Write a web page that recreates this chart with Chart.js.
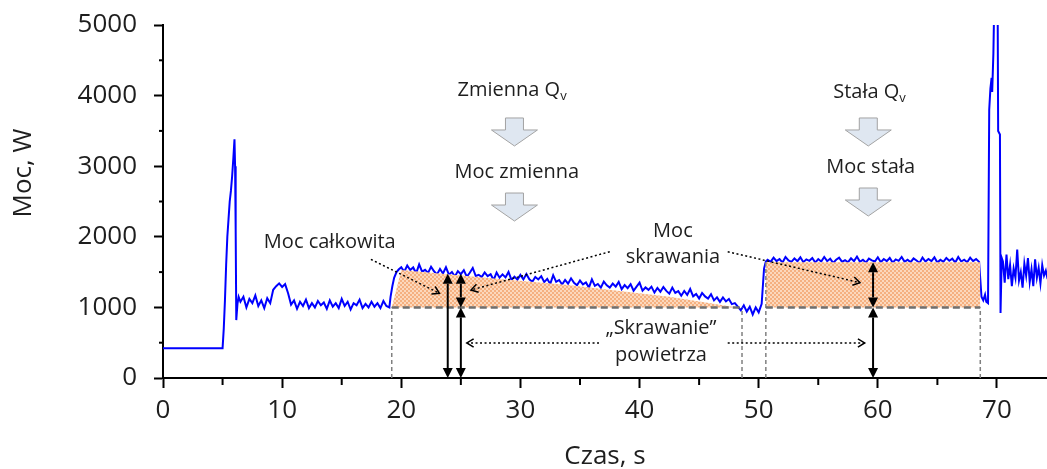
<!DOCTYPE html>
<html>
<head>
<meta charset="utf-8">
<script src="https://cdn.jsdelivr.net/npm/chart.js@4.4.1/dist/chart.umd.min.js"></script>
<style>
  html, body { margin: 0; padding: 0; background: #fff; }
  canvas { display: block; }
</style>
</head>
<body>
<canvas id="chart" width="1047" height="469"></canvas>
<script>
// power trace (W), time in s
const idleTime = [0, 5.0];
const idlePower = [420, 420];

const startTime = [5.1, 5.2, 5.3, 5.4, 5.5, 5.6, 5.7, 5.8, 5.9, 6.0, 6.05, 6.1, 6.15, 6.25, 6.35];
const startPower = [700, 1100, 1600, 2000, 2250, 2500, 2650, 2850, 3100, 3380, 3000, 2100, 820, 1050, 1150];

// sampled segments: start time + fixed step
const sampleStep = 0.25;
const airStart = 6.5;
const airPower = [1080, 1150, 1000, 1120, 1060, 1170, 1020, 1100, 990, 1130,
  1060, 1250, 1300, 1340, 1290, 1330, 1200, 1040, 1100, 980,
  1080, 1020, 1110, 990, 1060, 1000, 1090, 1030, 1070, 980,
  1100, 1010, 1060, 990, 1120, 1020, 1080, 970, 1060, 1030,
  1110, 990, 1050, 1000, 1080, 1010, 1060, 990, 1090, 1020];

const riseTime = [19.0, 19.1, 19.25, 19.4, 19.6, 19.8];
const risePower = [1000, 1150, 1300, 1420, 1500, 1540];

const variableStart = 20.0;
const variablePower = [1570, 1506, 1593, 1530, 1566, 1483, 1609, 1506, 1532, 1489,
  1575, 1512, 1468, 1545, 1481, 1568, 1464, 1501, 1437, 1514,
  1470, 1527, 1434, 1491, 1558, 1445, 1462, 1429, 1496, 1443,
  1470, 1387, 1494, 1421, 1468, 1425, 1502, 1389, 1436, 1393,
  1460, 1396, 1472, 1398, 1364, 1430, 1396, 1442, 1358, 1404,
  1330, 1456, 1362, 1388, 1324, 1390, 1336, 1412, 1348, 1314,
  1380, 1327, 1354, 1281, 1398, 1305, 1332, 1279, 1366, 1313,
  1280, 1337, 1294, 1361, 1258, 1315, 1272, 1329, 1236, 1293,
  1350, 1236, 1282, 1248, 1294, 1210, 1276, 1222, 1288, 1234,
  1195, 1280, 1205, 1230, 1165, 1232, 1176, 1260, 1156, 1190,
  1125, 1205, 1156, 1126, 1188, 1100, 1142, 1078, 1140, 1085,
  1120, 1046, 1060, 1010];

const dipStart = 48.5;
const dipPower = [960, 1030, 940, 1010, 900, 1000, 930, 1050];

const stepTime = [50.35, 50.45, 50.6];
const stepPower = [1300, 1550, 1650];

const constantStart = 50.75;
const constantPower = [1675, 1645, 1705, 1655, 1685, 1635, 1715, 1665, 1645, 1695,
  1655, 1710, 1640, 1680, 1660, 1700, 1635, 1685, 1650, 1715,
  1655, 1690, 1630, 1675, 1705, 1645, 1670, 1640, 1695, 1655,
  1720, 1645, 1675, 1635, 1690, 1665, 1650, 1710, 1640, 1685,
  1655, 1700, 1635, 1680, 1660, 1715, 1645, 1675, 1640, 1695,
  1665, 1630, 1705, 1650, 1685, 1655, 1710, 1635, 1675, 1645,
  1700, 1660, 1690, 1635, 1715, 1650, 1675, 1640, 1705, 1655,
  1685, 1645];

const exitTime = [68.6, 68.7, 68.85, 69.0, 69.1, 69.25, 69.35, 69.45, 69.55, 69.6, 69.7, 69.8, 70.05, 70.1, 70.25, 70.3, 70.4];
const exitPower = [1400, 1150, 1100, 1180, 1080, 1060, 3800, 4100, 4250, 4050, 4600, 5600, 5600, 3500, 3450, 920, 1700];

const endStep = 0.15;
const endStart = 70.5;
const endPower = [1650, 1350, 1750, 1400, 1600, 1300, 1550, 1420, 1820, 1380,
  1500, 1280, 1620, 1450, 1700, 1360, 1540, 1300, 1680, 1420,
  1560, 1340, 1600, 1450, 1520, 1400];

// cutting power areas
const airLevel = 1000;
const variableCutTime = [19.2, 20.0, 28.0, 34.0, 42.5, 48.2];
const variableCutPower = [1000, 1530, 1405, 1317, 1150, 1000];
const constantCutTime = [50.6, 50.6, 68.6, 68.6];
const constantCutPower = [1000, 1640, 1640, 1000];

// boundaries of the cutting phases
const edgeTime = [19.2, 48.6, 50.6, 68.6];
const edgeTop = [1000, 1000, 1640, 1000];
const baseFrom = [19.2, 50.6];
const baseTo = [48.6, 68.6];

// measurement arrows: time, from, to
const measureTime = [23.9, 25.0, 25.0, 59.6, 59.6];
const measureFrom = [0, 1000, 0, 1000, 0];
const measureTo = [1475, 1475, 1000, 1640, 1000];

const xTicks = [0, 10, 20, 30, 40, 50, 60, 70];
const xMinor = [5, 15, 25, 35, 45, 55, 65];
const yTicks = [0, 1000, 2000, 3000, 4000, 5000];
const yMinor = [500, 1500, 2500, 3500, 4500];

function pts(times, powers) {
  return times.map((t, i) => ({ x: t, y: powers[i] }));
}
function sampled(t0, dt, powers) {
  return powers.map((p, i) => ({ x: +(t0 + i * dt).toFixed(2), y: p }));
}

const trace = [
  ...pts(idleTime, idlePower),
  ...pts(startTime, startPower),
  ...sampled(airStart, sampleStep, airPower),
  ...pts(riseTime, risePower),
  ...sampled(variableStart, sampleStep, variablePower),
  ...sampled(dipStart, sampleStep, dipPower),
  ...pts(stepTime, stepPower),
  ...sampled(constantStart, sampleStep, constantPower),
  ...pts(exitTime, exitPower),
  ...sampled(endStart, endStep, endPower),
];

const ctx = document.getElementById('chart').getContext('2d');

const hatch = (() => {
  const c = document.createElement('canvas');
  c.width = 4; c.height = 4;
  const g = c.getContext('2d');
  g.fillStyle = '#fcd8bc';
  g.fillRect(0, 0, 4, 4);
  g.fillStyle = '#f5b080';
  g.fillRect(0, 0, 2, 2);
  g.fillRect(2, 2, 2, 2);
  return ctx.createPattern(c, 'repeat');
})();

const FONT = "'Open Sans', 'Noto Sans', sans-serif";
const INK = '#1e1e1e';

const dashSets = [];
baseFrom.forEach((t, i) => {
  dashSets.push({
    data: [{ x: t, y: airLevel }, { x: baseTo[i], y: airLevel }],
    borderColor: '#6f6f6f', borderWidth: 2.5, borderDash: [7, 4],
    pointRadius: 0, fill: false, order: 1,
  });
});
edgeTime.forEach((t, i) => {
  dashSets.push({
    data: [{ x: t, y: 0 }, { x: t, y: edgeTop[i] }],
    borderColor: '#808080', borderWidth: 1.5, borderDash: [4, 3],
    pointRadius: 0, fill: false, order: 1,
  });
});

// text, arrows, minor ticks
const notes = [
  { text: 'Zmienna Q', sub: 'v', t: 29.3, p: 4080 },
  { text: 'Moc zmienna', t: 29.7, p: 2918 },
  { text: 'Stała Q', sub: 'v', t: 59.3, p: 4050 },
  { text: 'Moc stała', t: 59.4, p: 2990 },
  { text: 'Moc całkowita', t: 14.0, p: 1926 },
  { text: 'Moc', t: 42.8, p: 2082 },
  { text: 'skrawania', t: 42.8, p: 1714 },
  { text: '„Skrawanie”', t: 41.8, p: 708 },
  { text: 'powietrza', t: 41.8, p: 326 },
];
const blockArrows = [[29.5, 3683], [29.5, 2620], [59.2, 3683], [59.2, 2691]];
const pointers = [
  [17.45, 1681, 23.2, 1200],
  [37.5, 1789, 25.85, 1246],
  [47.4, 1789, 58.5, 1350],
  [36.6, 496, 25.5, 496],
  [47.4, 496, 58.9, 496],
];

const annotate = {
  id: 'annotate',
  afterDraw(chart) {
    const c = chart.ctx, xs = chart.scales.x, ys = chart.scales.y;
    const px = v => xs.getPixelForValue(v), py = v => ys.getPixelForValue(v);
    c.save();

    // minor ticks
    c.strokeStyle = '#000';
    c.lineWidth = 2;
    xMinor.forEach(v => {
      c.beginPath(); c.moveTo(px(v), xs.top); c.lineTo(px(v), xs.top + 7); c.stroke();
    });
    yMinor.forEach(v => {
      c.beginPath(); c.moveTo(ys.right, py(v)); c.lineTo(ys.right - 4, py(v)); c.stroke();
    });

    // double-headed measurement arrows
    c.fillStyle = '#000';
    measureTime.forEach((t, i) => {
      const x = px(t), yb = py(measureFrom[i]), yt = py(measureTo[i]);
      const h = 10, w = 5;
      c.lineWidth = 2;
      c.beginPath(); c.moveTo(x, yb - h); c.lineTo(x, yt + h); c.stroke();
      c.beginPath(); c.moveTo(x, yb); c.lineTo(x - w, yb - h); c.lineTo(x + w, yb - h); c.closePath(); c.fill();
      c.beginPath(); c.moveTo(x, yt); c.lineTo(x - w, yt + h); c.lineTo(x + w, yt + h); c.closePath(); c.fill();
    });

    // dotted pointers
    pointers.forEach(([t1, p1, t2, p2]) => {
      const x1 = px(t1), y1 = py(p1), x2 = px(t2), y2 = py(p2);
      const a = Math.atan2(y2 - y1, x2 - x1);
      c.lineWidth = 1.5;
      c.setLineDash([2, 2.5]);
      c.beginPath(); c.moveTo(x1, y1); c.lineTo(x2, y2); c.stroke();
      c.setLineDash([]);
      c.beginPath();
      c.moveTo(x2 - 8 * Math.cos(a - 0.55), y2 - 8 * Math.sin(a - 0.55));
      c.lineTo(x2, y2);
      c.lineTo(x2 - 8 * Math.cos(a + 0.55), y2 - 8 * Math.sin(a + 0.55));
      c.stroke();
    });

    // block arrows
    blockArrows.forEach(([t, p]) => {
      const x = px(t), y = py(p);
      c.beginPath();
      c.moveTo(x - 9, y); c.lineTo(x + 9, y); c.lineTo(x + 9, y + 12);
      c.lineTo(x + 23, y + 12); c.lineTo(x, y + 28); c.lineTo(x - 23, y + 12);
      c.lineTo(x - 9, y + 12); c.closePath();
      c.fillStyle = '#dfe7f1'; c.fill();
      c.strokeStyle = '#a3a3a3'; c.lineWidth = 1; c.stroke();
    });

    // labels
    c.fillStyle = INK;
    c.textBaseline = 'middle';
    notes.forEach(n => {
      const x = px(n.t), y = py(n.p);
      c.font = '20px ' + FONT;
      const w1 = c.measureText(n.text).width;
      let w2 = 0;
      if (n.sub) { c.font = '13px ' + FONT; w2 = c.measureText(n.sub).width; }
      const x0 = x - (w1 + w2) / 2;
      c.textAlign = 'left';
      c.font = '20px ' + FONT;
      c.fillText(n.text, x0, y);
      if (n.sub) { c.font = '13px ' + FONT; c.fillText(n.sub, x0 + w1, y + 6); }
    });

    // axis titles
    c.font = '26px ' + FONT;
    c.textAlign = 'center';
    c.fillText('Czas, s', (chart.chartArea.left + chart.chartArea.right) / 2, 457);
    c.translate(24, 173);
    c.rotate(-Math.PI / 2);
    c.fillText('Moc, W', 0, 0);
    c.restore();
  }
};

new Chart(ctx, {
  type: 'line',
  data: {
    datasets: [
      { label: 'Moc', data: trace, borderColor: '#0000ff', borderWidth: 2, pointRadius: 0, tension: 0, fill: false, order: 3 },
      { label: 'Zmienna', data: pts(variableCutTime, variableCutPower), borderColor: 'rgba(0,0,0,0)', borderWidth: 0,
        backgroundColor: hatch, fill: { value: airLevel }, pointRadius: 0, order: 2 },
      { label: 'Stała', data: pts(constantCutTime, constantCutPower), borderColor: 'rgba(0,0,0,0)', borderWidth: 0,
        backgroundColor: hatch, fill: { value: airLevel }, pointRadius: 0, order: 2 },
      ...dashSets,
    ],
  },
  options: {
    responsive: false,
    animation: false,
    devicePixelRatio: 1,
    layout: { padding: { top: 25, right: 0, left: 0, bottom: 0 } },
    plugins: { legend: { display: false }, tooltip: { enabled: false } },
    scales: {
      x: {
        type: 'linear', min: 0, max: 74.2,
        afterBuildTicks: s => { s.ticks = xTicks.map(v => ({ value: v })); },
        afterFit: s => { s.height = 91; },
        ticks: { autoSkip: false, maxRotation: 0, padding: 7, color: INK, font: { family: FONT, size: 26 } },
        grid: { drawOnChartArea: false, tickLength: 10, tickColor: '#000', tickWidth: 2 },
        border: { color: '#000', width: 2 },
      },
      y: {
        min: 0, max: 5000,
        afterBuildTicks: s => { s.ticks = yTicks.map(v => ({ value: v })); },
        afterFit: s => { s.width = 163; },
        ticks: { padding: 17, color: INK, font: { family: FONT, size: 26, lineHeight: 0.6 }, callback: v => String(v) },
        grid: { drawOnChartArea: false, tickLength: 9, tickColor: '#000', tickWidth: 2 },
        border: { color: '#000', width: 2 },
      },
    },
  },
  plugins: [annotate],
});
</script>
</body>
</html>
